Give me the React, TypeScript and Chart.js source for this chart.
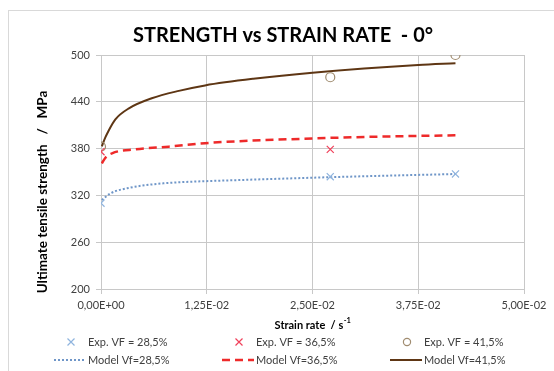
import React, { useEffect, useRef } from 'react';
import { Chart, registerables } from 'chart.js';

Chart.register(...registerables);
document.body.style.margin = '0';

// ---- data ----
const xTicks = [0, 0.0125, 0.025, 0.0375, 0.05];
const yTicks = [200, 260, 320, 380, 440, 500];

const expStrain28 = [0, 0.0271, 0.0419];
const expUts28 = [310, 344, 347.5];
const expStrain36 = [0, 0.0271];
const expUts36 = [376, 379];
const expStrain41 = [0, 0.0271, 0.0419];
const expUts41 = [382.5, 471.5, 500];

const modelStrain28 = [0.0001, 0.0011, 0.0035, 0.0074, 0.0113, 0.0153, 0.025, 0.0335, 0.0419];
const modelUts28 = [314, 322.5, 330, 335.5, 337.8, 339.3, 342.7, 345.2, 347.4];
const modelStrain36 = [0.0001, 0.0005, 0.0013, 0.0041, 0.008, 0.0123, 0.025, 0.0335, 0.0419];
const modelUts36 = [361, 368, 374, 379, 382.5, 387, 393, 395.5, 397];
const modelStrain41 = [0.0001, 0.0005, 0.0009, 0.0017, 0.0033, 0.006, 0.0092, 0.0123, 0.018, 0.025, 0.0375, 0.0419];
const modelUts41 = [383, 394, 403, 417.5, 431.6, 444.5, 454, 461, 469.5, 477.3, 487.2, 489.4];

const labels = [
  'Exp. VF = 28,5%', 'Exp. VF = 36,5%', 'Exp. VF = 41,5%',
  'Model Vf=28,5%', 'Model Vf=36,5%', 'Model Vf=41,5%',
];

const FONT = 'Lato, "Open Sans", sans-serif';

const pts = (xs: number[], ys: number[]) => xs.map((x, i) => ({ x, y: ys[i] }));

function sci(v: number): string {
  if (Math.abs(v) < 1e-12) return '0,00E+00';
  const e = Math.floor(Math.log10(Math.abs(v)) + 1e-9);
  const m = v / Math.pow(10, e);
  const ms = m.toFixed(2).replace('.', ',');
  const sign = e < 0 ? '-' : '+';
  const ea = Math.abs(e);
  return ms + 'E' + sign + (ea < 10 ? '0' : '') + ea;
}

function drawMarker(ctx: CanvasRenderingContext2D, style: string, x: number, y: number, r: number, color: string) {
  ctx.save();
  ctx.strokeStyle = color;
  ctx.lineWidth = 1.2;
  ctx.beginPath();
  if (style === 'circle') {
    ctx.arc(x, y, r * 0.8, 0, Math.PI * 2);
  } else {
    ctx.moveTo(x - r * 0.7, y - r * 0.7);
    ctx.lineTo(x + r * 0.7, y + r * 0.7);
    ctx.moveTo(x + r * 0.7, y - r * 0.7);
    ctx.lineTo(x - r * 0.7, y + r * 0.7);
  }
  ctx.stroke();
  ctx.restore();
}

const decorPlugin = {
  id: 'decor',
  beforeDraw(chart: any) {
    const { ctx } = chart;
    ctx.save();
    ctx.strokeStyle = '#d9d9d9';
    ctx.lineWidth = 1;
    ctx.strokeRect(8.5, 10.5, 600, 420);
    ctx.restore();
  },
  afterDraw(chart: any) {
    const { ctx, chartArea } = chart;
    const ca = chartArea;
    ctx.save();
    // title
    ctx.fillStyle = '#000000';
    ctx.font = `bold 20px ${FONT}`;
    ctx.textAlign = 'center';
    ctx.textBaseline = 'middle';
    ctx.fillText('STRENGTH vs STRAIN RATE  - 0°', 283, ca.top - 19);

    // y title
    ctx.save();
    ctx.translate(43, ca.bottom - 97);
    ctx.rotate(-Math.PI / 2);
    ctx.font = `bold 13.5px ${FONT}`;
    ctx.fillStyle = '#000000';
    ctx.fillText('Ultimate tensile strength   /   MPa', 0, 0);
    ctx.restore();

    // x title with superscript
    ctx.font = `bold 11px ${FONT}`;
    const main = 'Strain rate  / s';
    const sup = '-1';
    const wMain = ctx.measureText(main).width;
    ctx.font = `bold 7.5px ${FONT}`;
    const wSup = ctx.measureText(sup).width;
    const cx = (ca.left + ca.right) / 2;
    const startX = cx - (wMain + wSup) / 2;
    ctx.textAlign = 'left';
    ctx.font = `bold 11px ${FONT}`;
    ctx.fillText(main, startX, ca.bottom + 36);
    ctx.font = `bold 7.5px ${FONT}`;
    ctx.fillText(sup, startX + wMain + 0.5, ca.bottom + 32);

    // legend
    const ds = chart.data.datasets;
    ctx.font = `11px ${FONT}`;
    ctx.fillStyle = '#404040';
    ctx.textBaseline = 'middle';
    ds.forEach((d: any, i: number) => {
      const row = Math.floor(i / 3);
      const col = i % 3;
      const tx = ca.left - 13 + col * 168;
      const ty = ca.bottom + 53 + row * 18;
      if (row === 0) {
        drawMarker(ctx, d.pointStyle, tx - 17, ty, d.pointRadius, d.pointBorderColor);
      } else {
        ctx.save();
        ctx.strokeStyle = d.borderColor;
        ctx.lineWidth = d.borderWidth;
        ctx.setLineDash(d.borderDash || []);
        ctx.beginPath();
        ctx.moveTo(tx - 34, ty);
        ctx.lineTo(tx - 2, ty);
        ctx.stroke();
        ctx.restore();
      }
      ctx.fillStyle = '#404040';
      ctx.textAlign = 'left';
      ctx.fillText(labels[i], tx, ty);
    });
    ctx.restore();
  },
};

export default function App() {
  const ref = useRef<HTMLCanvasElement | null>(null);
  useEffect(() => {
    if (!ref.current) return;
    const expBase = { showLine: false, pointBorderWidth: 1.2, pointBackgroundColor: 'rgba(0,0,0,0)' };
    const modelBase = { pointRadius: 0, fill: false, cubicInterpolationMode: 'monotone' as const };
    const chart = new Chart(ref.current, {
      type: 'scatter',
      data: {
        datasets: [
          { ...expBase, label: labels[0], data: pts(expStrain28, expUts28), pointStyle: 'crossRot', pointRadius: 5, pointBorderColor: '#8fb4de', borderColor: '#8fb4de' },
          { ...expBase, label: labels[1], data: pts(expStrain36, expUts36), pointStyle: 'crossRot', pointRadius: 5, pointBorderColor: '#f0405a', borderColor: '#f0405a' },
          { ...expBase, label: labels[2], data: pts(expStrain41, expUts41), pointStyle: 'circle', pointRadius: 4.5, pointBorderColor: '#a08c70', borderColor: '#a08c70' },
          { ...modelBase, type: 'line', label: labels[3], data: pts(modelStrain28, modelUts28), borderColor: '#6f96c8', borderWidth: 2, borderDash: [2, 2] },
          { ...modelBase, type: 'line', label: labels[4], data: pts(modelStrain36, modelUts36), borderColor: '#ee2a2a', borderWidth: 2.5, borderDash: [8, 5] },
          { ...modelBase, type: 'line', label: labels[5], data: pts(modelStrain41, modelUts41), borderColor: '#5e3614', borderWidth: 2 },
        ] as any,
      },
      options: {
        animation: false,
        responsive: false,
        layout: { padding: { left: 0, right: 30, top: 55, bottom: 32 } },
        plugins: { legend: { display: false }, title: { display: false }, tooltip: { enabled: false } },
        scales: {
          x: {
            type: 'linear',
            min: 0,
            max: 0.05,
            afterBuildTicks: (s: any) => { s.ticks = xTicks.map((v) => ({ value: v })); },
            afterFit: (s: any) => { s.height = 50; },
            ticks: { callback: (v: any) => sci(Number(v)), color: '#404040', font: { family: FONT, size: 11 }, padding: 5, maxRotation: 0 },
            grid: { color: '#c8c8c8', lineWidth: 1, tickLength: 5 },
            border: { color: '#c8c8c8' },
          },
          y: {
            type: 'linear',
            min: 200,
            max: 500,
            afterBuildTicks: (s: any) => { s.ticks = yTicks.map((v) => ({ value: v })); },
            afterFit: (s: any) => { s.width = 101; },
            ticks: { color: '#404040', font: { family: FONT, size: 11 }, padding: 6 },
            grid: { color: '#c8c8c8', lineWidth: 1, tickLength: 5 },
            border: { color: '#c8c8c8' },
          },
        },
      },
      plugins: [decorPlugin],
    });
    return () => chart.destroy();
  }, []);
  return (
    <div style={{ width: 554, height: 371, position: 'relative', background: '#ffffff' }}>
      <canvas ref={ref} width={554} height={371} />
    </div>
  );
}
